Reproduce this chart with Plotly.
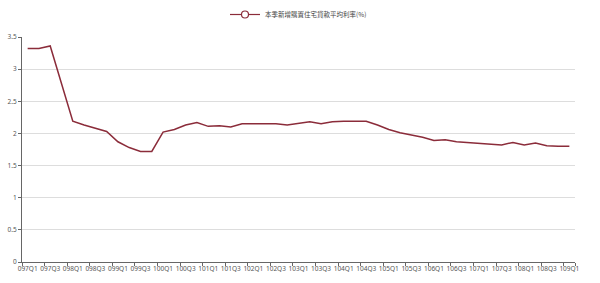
import plotly.graph_objects as go

years = list(range(97, 110))
quarters = []
for y in years:
    for q in range(1, 5):
        quarters.append(f"{y:03d}Q{q}")
quarters = quarters[:49]

rates = [3.32, 3.32, 3.36, 2.77, 2.19, 2.13, 2.08, 2.03, 1.87, 1.78, 1.72, 1.72,
         2.02, 2.06, 2.13, 2.17, 2.11, 2.12, 2.10, 2.15, 2.15, 2.15, 2.15, 2.13,
         2.15, 2.18, 2.15, 2.18, 2.19, 2.19, 2.19, 2.13, 2.06, 2.01, 1.98, 1.94,
         1.89, 1.90, 1.87, 1.86, 1.85, 1.84, 1.82, 1.86, 1.82, 1.85, 1.81, 1.80, 1.80]

series_name = "本季新增購置住宅貸款平均利率(%)"
line_color = "#8b2c3a"

fig = go.Figure()
fig.add_trace(go.Scatter(x=quarters, y=rates, mode="lines",
                         line=dict(color=line_color, width=1.5),
                         showlegend=False))
fig.add_trace(go.Scatter(x=[quarters[0]], y=[None], mode="lines+markers",
                         name=series_name,
                         line=dict(color=line_color, width=1.2),
                         marker=dict(symbol="circle", size=7, color="white",
                                     line=dict(color=line_color, width=1.2))))

tick_font = dict(family="Liberation Sans Narrow, Noto Sans, sans-serif", size=6.5, color="#555")

fig.update_layout(
    width=600, height=283,
    margin=dict(l=22, r=25, t=37, b=21, autoexpand=False),
    paper_bgcolor="white", plot_bgcolor="white",
    font=dict(family="Noto Sans CJK TC, Noto Sans, sans-serif", size=7, color="#666"),
    legend=dict(orientation="h", x=0.5, xanchor="center", y=1.0, yanchor="top",
                yref="container", font=dict(size=6.5, color="#444"),
                itemwidth=30),
    xaxis=dict(type="category", range=[-0.5, 48.5], automargin=False,
               tickvals=quarters[::2], ticktext=quarters[::2],
               tickson="boundaries", ticks="outside", ticklen=3,
               tickcolor="#666", showgrid=False, showline=True,
               linecolor="#666", linewidth=1, tickangle=0,
               tickfont=tick_font),
    yaxis=dict(range=[0, 3.5], dtick=0.5, showgrid=True, gridcolor="#ddd",
               automargin=False,
               showline=True, linecolor="#666", linewidth=1, zeroline=False,
               ticks="outside", ticklen=3, tickcolor="#666",
               tickfont=tick_font),
)

fig.write_html("out.html")
